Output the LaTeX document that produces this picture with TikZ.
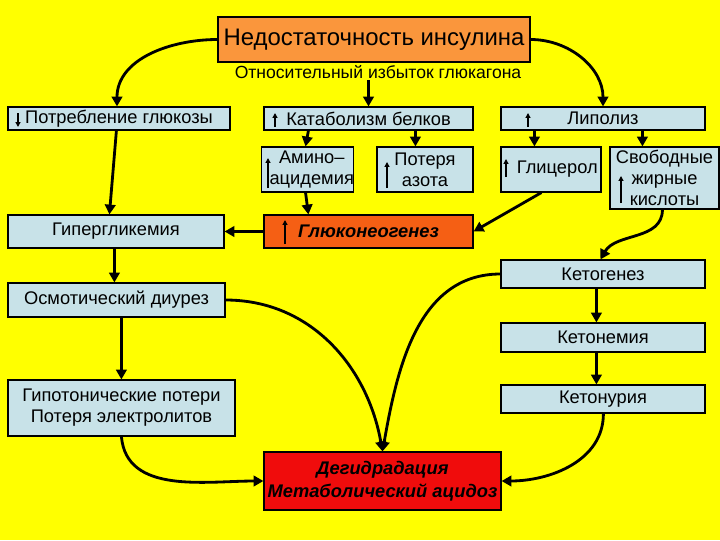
\documentclass[tikz,border=0pt]{standalone}
\usepackage{fontspec}
\setmainfont{Liberation Sans}
\usetikzlibrary{arrows.meta,calc}

\definecolor{bgyellow}{RGB}{255,255,0}
\definecolor{boxblue}{RGB}{200,226,232}
\definecolor{topor}{RGB}{250,150,60}
\definecolor{gngor}{RGB}{245,95,20}
\definecolor{dehred}{RGB}{240,12,12}

\begin{document}
\begin{tikzpicture}[
    x=0.025cm, y=0.025cm,
    bx/.style={draw, line width=0.8pt, fill=boxblue, align=center, inner sep=0pt,
               font=\fontsize{13}{15}\selectfont},
    lbl/.style={font=\fontsize{12.5}{15}\selectfont, inner sep=1pt},
    ar/.style={line width=2pt, -{Triangle[length=7pt,width=7.5pt]}},
    sm/.style={line width=0.9pt, -{Triangle[length=3.5pt,width=3.5pt]}}
]
    \fill[bgyellow] (0,0) rectangle (720,-540);
    \useasboundingbox (0,0) rectangle (720,-540);

    % top
    \node[bx, fill=topor, minimum width=7.8cm, minimum height=1.125cm,
          font=\fontsize{17}{20}\selectfont] (ins) at (374,-39.5) {Недостаточность инсулина};
    \node[lbl] (glu) at (378,-72) {Относительный избыток глюкагона};

    % first row
    \node[bx, minimum width=5.55cm, minimum height=0.575cm] (upt) at (119,-118.5) {Потребление глюкозы};
    \node[bx, minimum width=5.225cm, minimum height=0.575cm] (cat) at (368.5,-118.5) {Катаболизм белков};
    \node[bx, minimum width=5.1cm, minimum height=0.575cm] (lip) at (603,-118.5) {Липолиз};

    % second row
    \node[bx, minimum width=2.175cm, minimum height=1.125cm] (ami) at (307.5,-169.5) {\hspace*{6pt}Амино–\\\hspace*{6pt}ацидемия};
    \node[bx, minimum width=2.4cm, minimum height=1.125cm] (azo) at (425,-169.5) {Потеря\\азота};
    \node[bx, minimum width=2.5cm, minimum height=1.125cm] (gly) at (551,-169.5) {\hspace*{9pt}Глицерол};
    \node[bx, minimum width=2.725cm, minimum height=1.55cm] (ffa) at (664.5,-178) {Свободные\\жирные\\кислоты};

    \node[bx, minimum width=5.4cm, minimum height=0.825cm] (hyp) at (116,-231.5) {Гипергликемия};
    \node[bx, fill=gngor, minimum width=5.225cm, minimum height=0.825cm,
          font=\fontsize{13}{15}\selectfont\bfseries\itshape] (gng) at (368.5,-231.5) {Глюконеогенез};

    % right column
    \node[bx, minimum width=5.1cm, minimum height=0.7cm] (ktg) at (603,-274) {Кетогенез};
    \node[bx, minimum width=5.1cm, minimum height=0.725cm] (ktm) at (603,-337.5) {Кетонемия};
    \node[bx, minimum width=5.1cm, minimum height=0.7cm] (ktu) at (603,-399) {Кетонурия};

    % left column
    \node[bx, minimum width=5.425cm, minimum height=0.85cm] (osm) at (116.5,-300) {Осмотический диурез};
    \node[bx, minimum width=5.675cm, minimum height=1.4cm] (hto) at (121.5,-408) {Гипотонические потери\\Потеря электролитов};

    \node[bx, fill=dehred, minimum width=5.925cm, minimum height=1.45cm,
          font=\fontsize{13}{16}\selectfont\bfseries\itshape] (deh) at (382.5,-481) {Дегидрадация\\Метаболический ацидоз};

    % small up/down marks inside the boxes
    \draw[sm] (18,-113) -- (18,-127);
    \draw[sm] (275,-127) -- (275,-113);
    \draw[sm] (528,-127) -- (528,-113);
    \draw[sm] (268,-188) -- (268,-158);
    \draw[sm] (387,-188) -- (387,-162);
    \draw[sm] (506,-177) -- (506,-159);
    \draw[sm] (621,-203) -- (621,-176);
    \draw[sm] (285,-244) -- (285,-220);

    % connectors
    \draw[ar] (ins.west) to[out=180,in=90] ($(upt.north)+(-2,0)$);
    \draw[ar] (ins.east) to[out=0,in=90] (lip.north);
    \draw[ar] (glu.south -| cat.north) -- (cat.north);

    \draw[ar] ($(cat.south west)+(45,0)$) -- ($(ami.north west)+(45,0)$);
    \draw[ar] ($(cat.south west)+(152,0)$) -- ($(azo.north west)+(39,0)$);
    \draw[ar] ($(lip.south west)+(34,0)$) -- ($(gly.north west)+(34,0)$);
    \draw[ar] ($(lip.south west)+(142,0)$) -- ($(ffa.north west)+(33,0)$);

    \draw[ar] ($(upt.south west)+(109,0)$) -- ($(hyp.north west)+(102,0)$);
    \draw[ar] ($(ami.south west)+(45,0)$) -- ($(gng.north west)+(45,0)$);
    \draw[ar] ($(gly.south west)+(41,0)$) -- (gng.east);
    \draw[ar] (gng.west) -- (hyp.east);
    \draw[ar] ($(ffa.south west)+(53,0)$) to[out=-90,in=60] ($(ktg.north west)+(100,0)$);

    \draw[ar] ($(hyp.south west)+(107,0)$) -- ($(osm.north west)+(107,0)$);
    \draw[ar] ($(osm.south west)+(114,0)$) -- ($(hto.north west)+(114,0)$);
    \draw[ar] ($(ktg.south west)+(96,0)$) -- ($(ktm.north west)+(96,0)$);
    \draw[ar] ($(ktm.south west)+(96,0)$) -- ($(ktu.north west)+(96,0)$);

    \draw[ar] (osm.east) to[out=0,in=100] (deh.north);
    \draw[ar] (ktg.west) to[out=180,in=80] (deh.north);
    \draw[ar] ($(hto.south west)+(114,0)$) to[out=-85,in=180] (deh.west);
    \draw[ar] ($(ktu.south west)+(103,0)$) to[out=-90,in=0] (deh.east);
\end{tikzpicture}
\end{document}
